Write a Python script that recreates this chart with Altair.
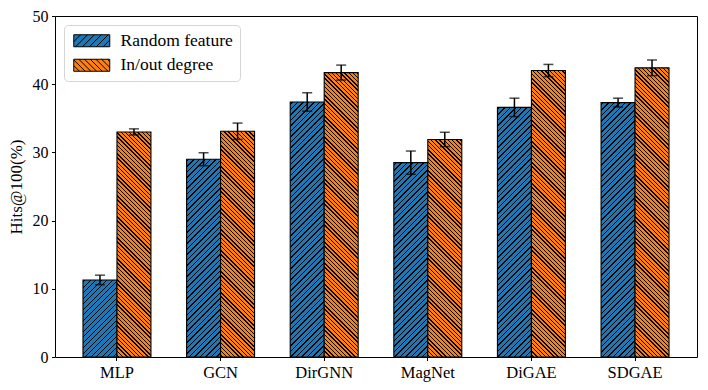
import math
import altair as alt
import pandas as pd

# ---------------- data ----------------
models = ["MLP", "GCN", "DirGNN", "MagNet", "DiGAE", "SDGAE"]
series = ["Random feature", "In/out degree"]
random_vals = [11.3, 29.0, 37.4, 28.5, 36.6, 37.3]
random_err = [0.7, 0.95, 1.35, 1.7, 1.35, 0.65]
degree_vals = [33.0, 33.1, 41.7, 31.9, 42.0, 42.4]
degree_err = [0.45, 1.2, 1.1, 1.05, 0.9, 1.15]
y_ticks = [0, 10, 20, 30, 40, 50]
y_title = "Hits@100(%)"

# ---------------- style ----------------
colors = ["#1f77b4", "#ff7f0e"]
hatch_dirs = ["/", "\\"]
hatch_period = [5.5, 4.2]      # horizontal period of hatch lines (px)
legend_period = [1.15, 0.95]   # in legend symbol units
FONT = "Liberation Serif"
PLOT_W, PLOT_H = 642, 341
Y_MAX = 50
PAD_INNER, PAD_OUTER = 0.344, 0.27

step = PLOT_W / (len(models) - PAD_INNER + 2 * PAD_OUTER)
bar_w = step * (1 - PAD_INNER) / 2

rows = []
for s_name, vals, errs in [(series[0], random_vals, random_err), (series[1], degree_vals, degree_err)]:
    for m, v, e in zip(models, vals, errs):
        rows.append(dict(model=m, series=s_name, value=v, err=e, lo=v - e, hi=v + e, mid=v / 2))
df = pd.DataFrame(rows)


def hatch_gradient(color, w, h, period, lw, direction):
    s = w + h
    D = w * w + h * h
    dx, dy = w * s / D, h * s / D
    if direction == "/":
        x1, y1, x2, y2 = 0, 0, dx, dy
    else:
        x1, y1, x2, y2 = 0, 1, dx, 1 - dy
    L = lw * math.sqrt(2)
    stops = []
    pos = period * 0.3
    stops.append((0.0, color))
    while pos < s:
        a = pos / s
        b = min(pos + L, s) / s
        c = min(pos + period, s) / s
        stops += [(a, color), (a, "black"), (b, "black"), (b, color), (c, color)]
        pos += period
    stops.append((1.0, color))
    return alt.Gradient(
        gradient="linear", x1=round(x1, 5), y1=round(y1, 5), x2=round(x2, 5), y2=round(y2, 5),
        stops=[alt.GradientStop(offset=round(min(max(o, 0), 1), 5), color=c) for o, c in stops],
    )


def legend_path(direction, period):
    parts = ["M-1,-1H5V1H-1Z"]
    x0 = -3.0
    while x0 < 5:
        xs, xe = max(x0, -1), min(x0 + 2, 5)
        if xs < xe:
            if direction == "/":
                ys, ye = 1 - (xs - x0), 1 - (xe - x0)
            else:
                ys, ye = -1 + (xs - x0), -1 + (xe - x0)
            parts.append(f"M{xs:.3f},{ys:.3f}L{xe:.3f},{ye:.3f}")
        x0 += period
    return "".join(parts)


paths = [legend_path(hatch_dirs[i], legend_period[i]) for i in range(2)]

X = alt.X("model:N", sort=models,
          scale=alt.Scale(domain=models, paddingInner=PAD_INNER, paddingOuter=PAD_OUTER),
          axis=alt.Axis(title=None, labelAngle=0, labelFontSize=16.5, domain=False))
XO = alt.XOffset("series:N", sort=series, scale=alt.Scale(domain=series))
Y = alt.Y("value:Q", scale=alt.Scale(domain=[0, Y_MAX], nice=False),
          axis=alt.Axis(values=y_ticks, title=y_title, grid=False, labelFontSize=16,
                        titleFontSize=17, titleFontWeight="normal", domain=False))

base = alt.Chart(df)

leg = alt.Legend(orient="none", legendX=9, legendY=9, title=None, symbolSize=144,
                 labelOffset=32, padding=7, rowPadding=5.5, strokeColor="#d5d5d5",
                 cornerRadius=4, fillColor="white", labelFont=FONT, labelFontSize=17.5,
                 labelColor="black", symbolStrokeWidth=1, symbolOpacity=1)

legend_layer = base.mark_point(filled=False, size=1, strokeWidth=1, opacity=1).encode(
    x=X, xOffset=XO, y=alt.Y("mid:Q"),
    fill=alt.Fill("series:N", scale=alt.Scale(domain=series, range=colors), legend=leg),
    stroke=alt.Stroke("series:N", scale=alt.Scale(domain=series, range=["black", "black"]), legend=leg),
    shape=alt.Shape("series:N", scale=alt.Scale(domain=series, range=paths), legend=leg),
)

layers = [legend_layer]
all_vals = [random_vals, degree_vals]
for si, sname in enumerate(series):
    for mi, m in enumerate(models):
        h = all_vals[si][mi] * PLOT_H / Y_MAX
        grad = hatch_gradient(colors[si], bar_w, h, hatch_period[si], 1.0, hatch_dirs[si])
        layers.append(
            base.transform_filter((alt.datum.model == m) & (alt.datum.series == sname))
            .mark_bar(fill=grad, stroke="black", strokeWidth=1.1)
            .encode(x=X, xOffset=XO, y=Y)
        )

err_rule = base.mark_rule(color="black", strokeWidth=1.5).encode(
    x=X, xOffset=XO, y=alt.Y("lo:Q"), y2="hi:Q")
cap_lo = base.mark_tick(color="black", size=10, thickness=1.5).encode(x=X, xOffset=XO, y=alt.Y("lo:Q"))
cap_hi = base.mark_tick(color="black", size=10, thickness=1.5).encode(x=X, xOffset=XO, y=alt.Y("hi:Q"))
layers += [err_rule, cap_lo, cap_hi]

chart = alt.layer(*layers).properties(
    width=PLOT_W, height=PLOT_H,
    autosize=alt.AutoSizeParams(type="none"),
    padding={"left": 47, "top": 8, "right": 3, "bottom": 26},
).configure_view(stroke="black", strokeWidth=1).configure_axis(
    labelFont=FONT, titleFont=FONT, labelColor="black", titleColor="black",
    tickColor="black", tickSize=3.5, tickWidth=1, labelPadding=3.5,
).configure_axisLeft(titleX=-30)

chart.save("out.html", embed_options={"renderer": "svg", "actions": False})
